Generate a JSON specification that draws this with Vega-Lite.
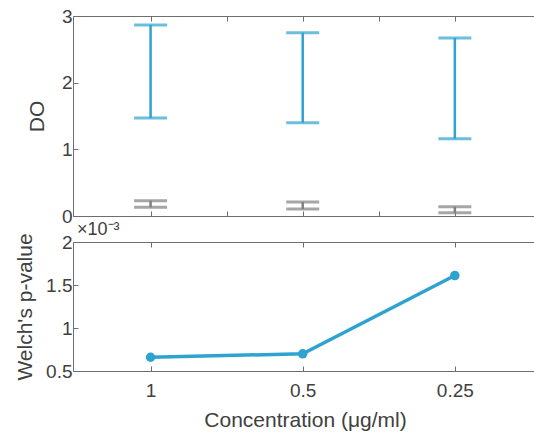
{
  "$schema": "https://vega.github.io/schema/vega-lite/v6.json",
  "padding": {"left": 14, "top": 6, "right": 0, "bottom": 0},
  "background": "white",
  "spacing": 26,
  "bounds": "flush",
  "config": {
    "font": "Liberation Sans",
    "view": {"stroke": "#6e6e6e", "strokeWidth": 1},
    "axis": {
      "labelFont": "Liberation Sans",
      "titleFont": "Liberation Sans",
      "labelFontSize": 19,
      "titleFontSize": 21,
      "titleFontWeight": "normal",
      "labelColor": "#404040",
      "titleColor": "#404040",
      "tickColor": "#6e6e6e",
      "domain": false,
      "grid": false
    }
  },
  "datasets": {
    "do": [
      {"conc": "1", "idx": 1, "group": "high", "lo": 1.47, "hi": 2.865},
      {"conc": "0.5", "idx": 2, "group": "high", "lo": 1.40, "hi": 2.75},
      {"conc": "0.25", "idx": 3, "group": "high", "lo": 1.16, "hi": 2.67},
      {"conc": "1", "idx": 1, "group": "low", "lo": 0.13, "hi": 0.23},
      {"conc": "0.5", "idx": 2, "group": "low", "lo": 0.105, "hi": 0.21},
      {"conc": "0.25", "idx": 3, "group": "low", "lo": 0.05, "hi": 0.14}
    ],
    "pval": [
      {"conc": "1", "idx": 1, "p": 0.00066},
      {"conc": "0.5", "idx": 2, "p": 0.00070},
      {"conc": "0.25", "idx": 3, "p": 0.00161}
    ]
  },
  "vconcat": [
    {
      "width": 464,
      "height": 200,
      "data": {"name": "do"},
      "resolve": {"axis": {"x": "independent"}},
      "layer": [
        {
          "mark": {"type": "rule", "strokeWidth": 2.5},
          "encoding": {
            "x": {"field": "idx", "type": "quantitative", "scale": {"domain": [0.49, 3.54], "nice": false, "zero": false},
                  "axis": {"orient": "bottom", "values": [1, 1.5, 2, 2.5, 3], "labels": false, "tickSize": -5, "title": null}},
            "y": {"field": "lo", "type": "quantitative", "scale": {"domain": [0, 3], "nice": false},
                  "axis": {"values": [0, 1, 2, 3], "format": "d", "title": "DO", "tickSize": -5, "labelPadding": 6, "titlePadding": 14}},
            "y2": {"field": "hi"},
            "color": {"field": "group", "type": "nominal", "scale": {"domain": ["high", "low"], "range": ["#2EA3D0", "#808080"]}, "legend": null}
          }
        },
        {
          "mark": {"type": "tick", "orient": "horizontal", "size": 33, "thickness": 3},
          "encoding": {
            "x": {"field": "idx", "type": "quantitative",
                  "axis": {"orient": "top", "values": [1, 1.5, 2, 2.5, 3], "labels": false, "tickSize": -5, "title": null}},
            "y": {"field": "lo", "type": "quantitative"},
            "color": {"field": "group", "type": "nominal", "legend": null}
          }
        },
        {
          "mark": {"type": "tick", "orient": "horizontal", "size": 33, "thickness": 3},
          "encoding": {
            "x": {"field": "idx", "type": "quantitative", "axis": null},
            "y": {"field": "hi", "type": "quantitative"},
            "color": {"field": "group", "type": "nominal", "legend": null}
          }
        }
      ]
    },
    {
      "width": 464,
      "height": 129,
      "data": {"name": "pval"},
      "title": {"text": "×10⁻³", "anchor": "start", "frame": "group", "fontSize": 18, "fontWeight": "normal", "color": "#404040", "offset": -6, "dx": 4},
      "resolve": {"axis": {"x": "independent"}},
      "layer": [
        {
          "mark": {"type": "line", "strokeWidth": 3.5, "color": "#2EA3D0", "point": {"filled": true, "size": 90, "color": "#2EA3D0"}},
          "encoding": {
            "x": {"field": "idx", "type": "quantitative", "scale": {"domain": [0.49, 3.54], "nice": false, "zero": false},
                  "axis": {"orient": "bottom", "values": [1, 2, 3], "tickSize": -5, "labelPadding": 15, "titlePadding": 9,
                           "labelExpr": "datum.value == 1 ? '1' : datum.value == 2 ? '0.5' : datum.value == 3 ? '0.25' : ''",
                           "title": "Concentration (μg/ml)"}},
            "y": {"field": "p", "type": "quantitative", "scale": {"domain": [0.0005, 0.002], "nice": false, "zero": false},
                  "axis": {"values": [0.0005, 0.001, 0.0015, 0.002], "labelExpr": "format(datum.value * 1000, '~g')",
                           "title": "Welch's p-value", "tickSize": -5, "labelPadding": 6, "titlePadding": 10}}
          }
        },
        {
          "mark": {"type": "point", "opacity": 0},
          "encoding": {
            "x": {"field": "idx", "type": "quantitative",
                  "axis": {"orient": "top", "values": [1, 2, 3], "labels": false, "tickSize": -5, "title": null}},
            "y": {"field": "p", "type": "quantitative"}
          }
        }
      ]
    }
  ]
}
